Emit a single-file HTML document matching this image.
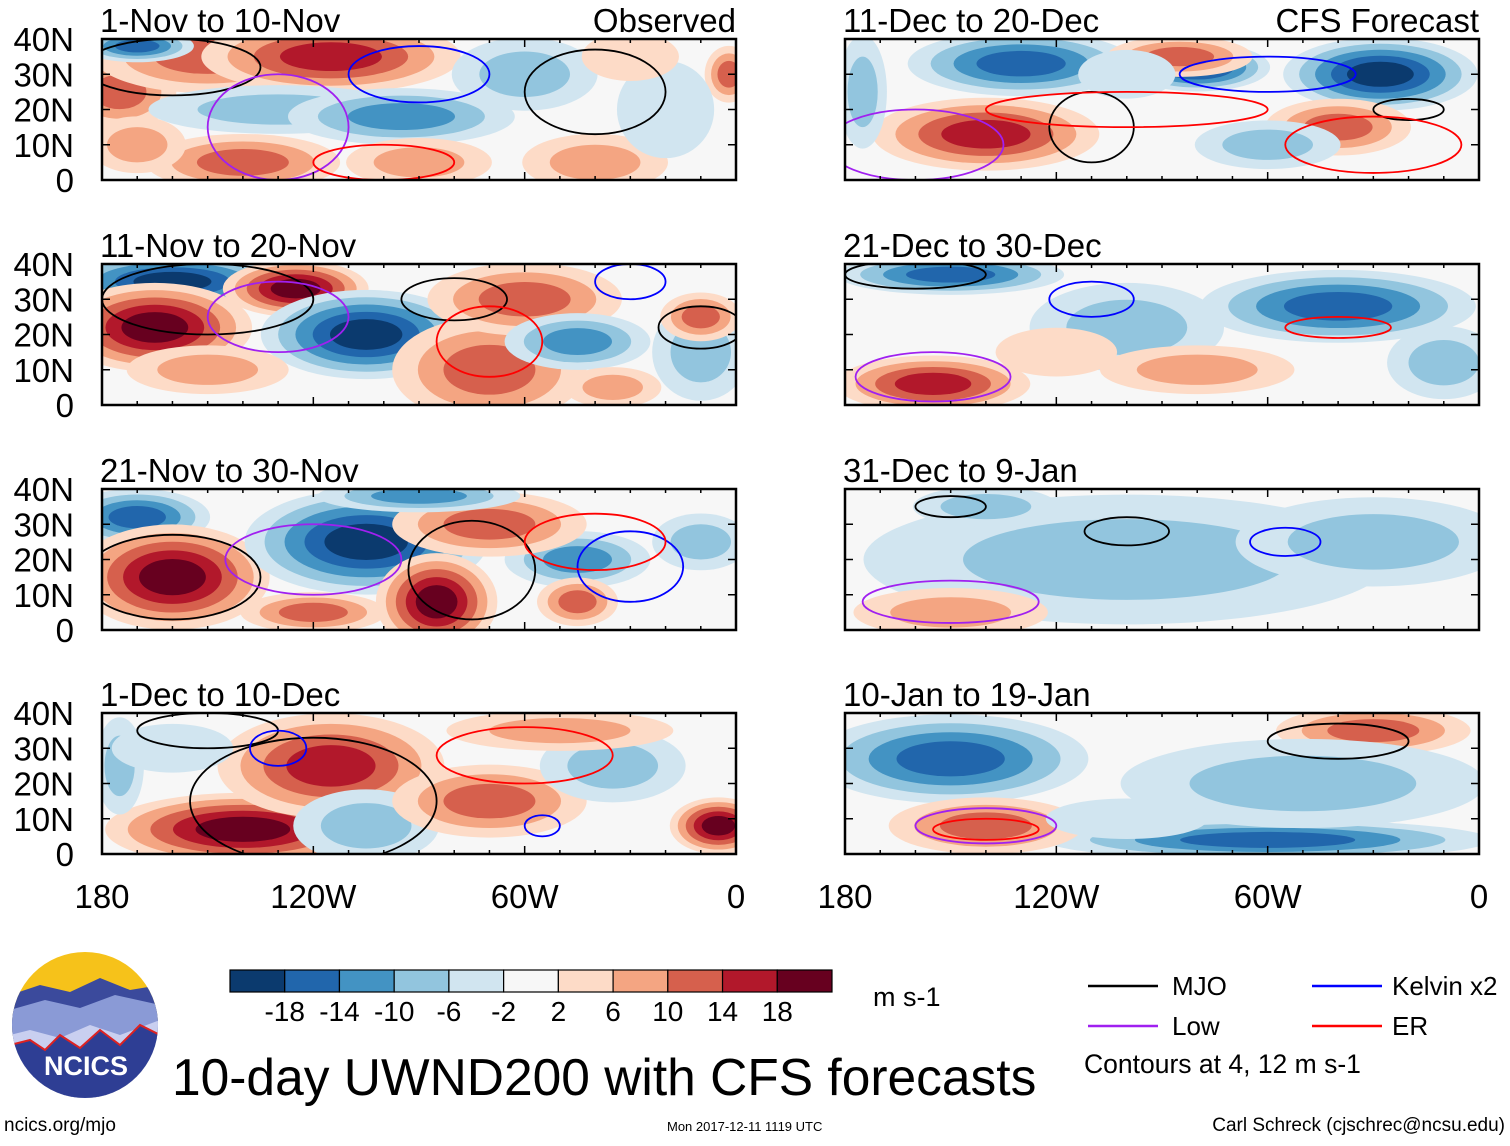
<!DOCTYPE html>
<html><head><meta charset="utf-8"><style>
body{margin:0;background:#fff;font-family:"Liberation Sans",sans-serif}
svg text{font-family:"Liberation Sans",sans-serif}
</style></head><body>
<svg id="fig" width="1510" height="1141" xmlns="http://www.w3.org/2000/svg">
<defs>
<clipPath id="lc"><circle cx="85" cy="1025" r="73"/></clipPath>
</defs>
<g id="panels"></g>
<g id="cbar"></g>
<text x="873" y="1006" font-size="27">m s-1</text>
<g font-size="26">
<line x1="1088" y1="986" x2="1158" y2="986" stroke="#000" stroke-width="2.5"/><text x="1172" y="995">MJO</text>
<line x1="1312" y1="986" x2="1382" y2="986" stroke="#0000ff" stroke-width="2.5"/><text x="1392" y="995">Kelvin x2</text>
<line x1="1088" y1="1026" x2="1158" y2="1026" stroke="#a020f0" stroke-width="2.5"/><text x="1172" y="1035">Low</text>
<line x1="1312" y1="1026" x2="1382" y2="1026" stroke="#ff0000" stroke-width="2.5"/><text x="1392" y="1035">ER</text>
<text x="1084" y="1073" font-size="26.5">Contours at 4, 12 m s-1</text>
</g>
<g>
<g clip-path="url(#lc)">
<rect x="10" y="950" width="150" height="150" fill="#f6c21a"/>
<path d="M10 995 L40 985 L70 992 L100 978 L130 990 L160 985 L160 1100 L10 1100Z" fill="#3b4a9c"/>
<path d="M10 1010 L45 1000 L80 1008 L115 995 L160 1005 L160 1100 L10 1100Z" fill="#8a9ad6"/>
<path d="M10 1035 L30 1030 L60 1038 L90 1025 L120 1035 L160 1020 L160 1100 L10 1100Z" fill="#c9cff0"/>
<path d="M10 1045 L30 1040 L45 1050 L60 1035 L80 1048 L100 1030 L120 1045 L140 1025 L160 1035 L160 1100 L10 1100Z" fill="#2e3e94"/>
<polyline points="10,1045 30,1040 45,1050 60,1035 80,1048 100,1030 120,1045 140,1025 160,1035" fill="none" stroke="#d22" stroke-width="2"/>
</g>
<text x="86" y="1075" font-size="27" font-weight="bold" fill="#fff" text-anchor="middle">NCICS</text>
</g>
<text x="172" y="1095" font-size="51.5">10-day UWND200 with CFS forecasts</text>
<text x="4" y="1131" font-size="19">ncics.org/mjo</text>
<text x="667" y="1131" font-size="13">Mon 2017-12-11 1119 UTC</text>
<text x="1505" y="1131" font-size="19" text-anchor="end">Carl Schreck (cjschrec@ncsu.edu)</text>
</svg>
<script>
const colorLevels=['#0b3a6e','#2166ac','#4393c3','#92c5de','#d1e5f0','#f7f7f7','#fddbc7','#f4a582','#d6604d','#b2182b','#67001f'];
const cbarLabels=['-18','-14','-10','-6','-2','2','6','10','14','18'];
const latTicks=['40N','30N','20N','10N','0'];
const lonLabels=['180','120W','60W','0'];
const panelTitles=['1-Nov to 10-Nov','11-Nov to 20-Nov','21-Nov to 30-Nov','1-Dec to 10-Dec','11-Dec to 20-Dec','21-Dec to 30-Dec','31-Dec to 9-Jan','10-Jan to 19-Jan'];
// blobs: [lon, lat, lonRadius, latRadius, level]
const blobs0=[[-175,25,14,9,3],[-150,35,28,9,3],[-115,35,32,9,4],[-130,20,32,6,-2],[-95,18,28,7,-3],[-140,5,24,7,3],[-90,5,18,6,2],[-60,30,18,9,-2],[-40,5,18,7,2],[-2,30,6,7,3],[-20,20,12,12,-1],[-170,10,12,7,2],[-170,38,14,4,-4],[-30,35,12,6,1]];
const blobs1=[[-160,35,28,7,-5],[-165,22,24,11,5],[-125,33,18,7,5],[-105,20,26,11,-5],[-70,10,24,13,3],[-60,30,24,9,3],[-45,18,18,7,-3],[-35,5,12,5,2],[-10,15,12,12,-2],[-10,25,10,6,3],[-150,10,20,6,2]];
const blobs2=[[-170,32,18,7,-4],[-160,15,24,13,5],[-105,25,30,13,-5],[-85,8,15,12,5],[-120,5,18,5,3],[-45,20,18,7,-3],[-45,8,10,6,3],[-10,25,12,7,-2],[-70,30,24,8,3],[-90,38,25,4,-3]];
const blobs3=[[-140,7,34,9,5],[-115,25,28,13,4],[-105,8,18,9,-2],[-175,25,6,12,-2],[-70,15,24,9,3],[-35,25,18,9,-2],[-5,8,12,7,5],[-50,35,28,5,2],[-160,30,15,6,-1]];
const blobs4=[[-130,33,28,8,-4],[-80,32,18,6,-5],[-28,30,24,9,-5],[-140,13,28,9,4],[-40,15,18,7,3],[-60,10,18,6,-2],[-85,35,18,5,3],[-175,25,6,14,-2],[-100,30,12,6,-1]];
const blobs5=[[-150,37,28,5,-4],[-40,28,34,9,-4],[-155,6,24,7,4],[-100,22,24,11,-2],[-10,12,14,9,-2],[-80,10,24,6,2],[-120,15,15,6,1]];
const blobs6=[[-100,20,65,16,-2],[-30,25,34,11,-2],[-150,5,24,6,2],[-140,35,18,5,-2]];
const blobs7=[[-150,27,34,11,-4],[-60,4,55,5,-4],[-140,8,24,7,3],[-30,35,24,6,3],[-50,20,45,11,-2],[-100,10,20,5,-1]];
const allBlobs=[blobs0,blobs1,blobs2,blobs3,blobs4,blobs5,blobs6,blobs7];
// contours: [lon, lat, lonRadius, latRadius, type]
const contours0=[[-160,32,25,8,'m'],[-40,25,20,12,'m'],[-90,30,20,8,'b'],[-130,15,20,15,'l'],[-100,5,20,5,'r']];
const contours1=[[-150,30,30,10,'m'],[-80,30,15,6,'m'],[-10,22,12,6,'m'],[-130,25,20,10,'l'],[-70,18,15,10,'r'],[-30,35,10,5,'b']];
const contours2=[[-160,15,25,12,'m'],[-75,17,18,14,'m'],[-120,20,25,10,'l'],[-30,18,15,10,'b'],[-40,25,20,8,'r']];
const contours3=[[-120,15,35,18,'m'],[-150,35,20,5,'m'],[-60,28,25,8,'r'],[-130,30,8,5,'b'],[-55,8,5,3,'b']];
const contours4=[[-110,15,12,10,'m'],[-20,20,10,3,'m'],[-60,30,25,5,'b'],[-160,10,25,10,'l'],[-100,20,40,5,'r'],[-30,10,25,8,'r']];
const contours5=[[-110,30,12,5,'b'],[-155,8,22,7,'l'],[-40,22,15,3,'r'],[-160,37,20,4,'m']];
const contours6=[[-150,35,10,3,'m'],[-100,28,12,4,'m'],[-55,25,10,4,'b'],[-150,8,25,6,'l']];
const contours7=[[-40,32,20,5,'m'],[-140,8,20,5,'l'],[-140,7,15,3,'r']];
const allContours=[contours0,contours1,contours2,contours3,contours4,contours5,contours6,contours7];
const lineColors={m:'#000',b:'#0000ff',l:'#a020f0',r:'#ff0000'};
const NS='http://www.w3.org/2000/svg';
function mk(tag,attrs,parent){const e=document.createElementNS(NS,tag);for(const k in attrs)e.setAttribute(k,attrs[k]);parent.appendChild(e);return e;}
const W=634,H=141;
const px0=[102,845],py0=[39,264,489,713];
const P=document.getElementById('panels');
function levelColor(l){return colorLevels[5+l];}
for(let p=0;p<8;p++){
  const col=p<4?0:1,row=p%4;
  const x0=px0[col],y0=py0[row];
  const xs=lon=>x0+(lon+180)/180*W;
  const ys=lat=>y0+H-lat/40*H;
  const g=mk('g',{},P);
  
  
  const cid='c'+p;
  const cp=mk('clipPath',{id:cid},g);mk('rect',{x:x0,y:y0,width:W,height:H},cp);
  const inner=mk('g',{'clip-path':'url(#'+cid+')'},g);
  mk('rect',{x:x0,y:y0,width:W,height:H,fill:colorLevels[5]},inner);
  allBlobs[p].forEach(b=>{
    const n=Math.abs(b[4]),s=Math.sign(b[4]);
    for(let k=1;k<=n;k++){
      const f=1.15-(k-1)/(n+0.3);
      const e=mk('ellipse',{cx:xs(b[0]),cy:ys(b[1]),rx:b[2]/180*W*f,ry:b[3]/40*H*f,fill:levelColor(s*k)},inner);
      
      
    }
  });
  allContours[p].forEach(c=>{
    const e=mk('ellipse',{cx:xs(c[0]),cy:ys(c[1]),rx:c[2]/180*W,ry:c[3]/40*H,fill:'none',stroke:lineColors[c[4]],'stroke-width':1.8},inner);
    
    
  });
  mk('rect',{x:x0,y:y0,width:W,height:H,fill:'none',stroke:'#000','stroke-width':2.5},g);
  for(let lon=-180;lon<=0;lon+=10){const L=lon%60===0?8:4;mk('line',{x1:xs(lon),x2:xs(lon),y1:y0+H,y2:y0+H-L,stroke:'#000','stroke-width':1.5},g);mk('line',{x1:xs(lon),x2:xs(lon),y1:y0,y2:y0+L,stroke:'#000','stroke-width':1.5},g);}
  latTicks.forEach((t,i)=>{const y=y0+i*H/4;mk('line',{x1:x0,x2:x0+8,y1:y,y2:y,stroke:'#000','stroke-width':1.5},g);mk('line',{x1:x0+W,x2:x0+W-8,y1:y,y2:y,stroke:'#000','stroke-width':1.5},g);
    if(col===0){const tx=mk('text',{x:74,y:y+12,'font-size':33,'text-anchor':'end'},g);tx.textContent=t;}});
  const tt=mk('text',{x:x0-2,y:y0-7,'font-size':33},g);tt.textContent=panelTitles[p];
  
  
  if(row===0){const r=mk('text',{x:x0+W,y:y0-7,'font-size':33,'text-anchor':'end'},g);r.textContent=col===0?'Observed':'CFS Forecast';
    
    }
  if(row===3){lonLabels.forEach((l,i)=>{const t=mk('text',{x:x0+i*W/3,y:908,'font-size':33,'text-anchor':'middle'},g);t.textContent=l;
    
    });}
}
const C=document.getElementById('cbar');
const cbx=230,cbw=602/colorLevels.length;
colorLevels.forEach((c,i)=>{const r=mk('rect',{x:cbx+i*cbw,y:970,width:cbw,height:22,fill:c,stroke:'#000','stroke-width':1.2},C);
  
  });
cbarLabels.forEach((l,i)=>{const t=mk('text',{x:cbx+(i+1)*cbw,y:1021,'font-size':28,'text-anchor':'middle'},C);t.textContent=l;
  
  });
</script>
</body></html>
